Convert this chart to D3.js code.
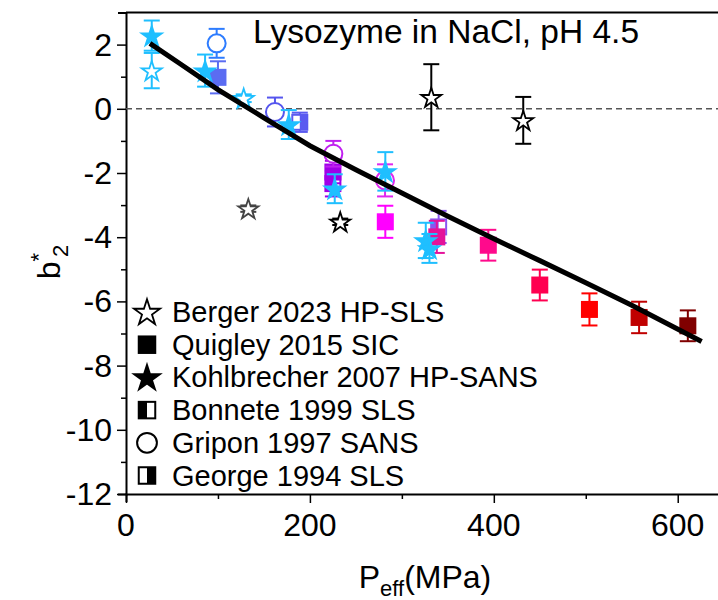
<!DOCTYPE html>
<html>
<head>
<meta charset="utf-8">
<script src="https://cdn.jsdelivr.net/npm/d3@7"></script>
<style>
	body { margin: 0; background: #fff; }
	svg { display: block; font-family: "Liberation Sans", Arial, sans-serif; }
</style>
</head>
<body>
<svg id="chart" width="718" height="600"></svg>
<script>
(function(d3) {
	'use strict';

	/** data */
	var bergerP = [28, 128, 133, 233, 332, 432];
	var bergerB = [1.19, 0.33, -3.11, -3.52, 0.36, -0.36];
	var bergerErr = [0.55, 0.12, 0.1, 0.1, 1.03, 0.73];
	var bergerColors = ['#1fbfff', '#1fbfff', '#444444', '#000000', '#000000', '#000000'];

	var quigleyP = [100, 225, 282, 338, 394, 450, 504, 558, 611];
	var quigleyB = [0.98, -1.97, -3.52, -3.99, -4.25, -5.49, -6.25, -6.5, -6.76];
	var quigleyErr = [0.5, 0.35, 0.5, 0.5, 0.48, 0.48, 0.5, 0.49, 0.48];
	var quigleyColors = ['#5b6cf2', '#a000e8', '#ff00ff', '#e4129a', '#ff0a8c', '#ff0050', '#ff0000', '#c00000', '#800000'];

	var kohlP = [28, 86, 177, 227, 282, 326, 330];
	var kohlB = [2.28, 1.19, -0.49, -2.49, -1.95, -4.1, -4.35];
	var kohlErr = [0.47, 0.5, 0.45, 0.45, 0.6, 0.55, 0.45];
	var kohlColors = ['#1fbfff', '#1fbfff', '#1fbfff', '#1fbfff', '#1fbfff', '#1fbfff', '#1fbfff'];

	var bonneteP = [225, 340];
	var bonneteB = [-2.33, -3.68];
	var bonneteErr = [0.4, 0.5];
	var bonneteColors = ['#a000e8', '#8a55f0'];

	var gripon97P = [98.6, 162, 225.5, 281.7];
	var gripon97B = [2.04, -0.1, -1.4, -2.23];
	var gripon97Err = [0.45, 0.45, 0.4, 0.5];
	var gripon97Colors = ['#2d7cff', '#5555ee', '#c020f0', '#e028f0'];

	var georgeP = [189];
	var georgeB = [-0.42];
	var georgeErr = [0.3];
	var georgeColors = ['#5a5af0'];

	var fitP = [26, 60, 100, 150, 200, 250, 300, 350, 400, 450, 500, 550, 626];
	var fitB = [2.04, 1.38, 0.6, -0.28, -1.15, -1.9, -2.62, -3.35, -4.05, -4.73, -5.42, -6.12, -7.25];

	var xTicks = [0, 200, 400, 600];
	var yTicks = [2, 0, -2, -4, -6, -8, -10, -12];

	var legendLabels = ['Berger 2023 HP-SLS', 'Quigley 2015 SIC', 'Kohlbrecher 2007 HP-SANS',
		'Bonnete 1999 SLS', 'Gripon 1997 SANS', 'George 1994 SLS'];
	var legendShapes = ['openStar', 'square', 'star', 'halfLeft', 'circle', 'halfRight'];

	var svg = d3.select('#chart');
	var x = d3.scaleLinear().domain([0, 650]).range([126, 723.7]);
	var y = d3.scaleLinear().domain([-12, 3]).range([494, 12.5]);

	/** axes */
	var xAxis = svg.append('g').attr('transform', 'translate(0,' + y(-12) + ')')
		.call(d3.axisBottom(x).tickValues(d3.range(0, 701, 100)).tickSize(8).tickFormat(''));
	xAxis.selectAll('.tick line').attr('y2', function(d) { return d % 200 === 0 ? 9 : 5; });
	var yAxis = svg.append('g').attr('transform', 'translate(' + x(0) + ',0)')
		.call(d3.axisLeft(y).tickValues(d3.range(-12, 3.1, 1)).tickSize(8).tickFormat(''));
	yAxis.selectAll('.tick line').attr('x2', function(d) { return d % 2 === 0 ? -9 : -5; });
	svg.selectAll('.domain').attr('stroke', '#000').attr('stroke-width', 2);
	svg.selectAll('.tick line').attr('stroke', '#000').attr('stroke-width', 1.5);
	svg.append('line').attr('x1', x(0)).attr('x2', 718).attr('y1', y(3)).attr('y2', y(3))
		.attr('stroke', '#000').attr('stroke-width', 2);

	svg.append('g').selectAll('text').data(xTicks).enter().append('text')
		.attr('x', function(d) { return x(d); }).attr('y', 536).attr('text-anchor', 'middle')
		.attr('font-size', 32).text(function(d) { return d; });
	svg.append('g').selectAll('text').data(yTicks).enter().append('text')
		.attr('x', 112).attr('y', function(d) { return y(d) + 11; }).attr('text-anchor', 'end')
		.attr('font-size', 32).text(function(d) { return d; });

	var xTitle = svg.append('text').attr('x', 425).attr('y', 588).attr('text-anchor', 'middle').attr('font-size', 32);
	xTitle.append('tspan').text('P');
	xTitle.append('tspan').attr('font-size', 22).attr('dy', 8).text('eff');
	xTitle.append('tspan').attr('dy', -8).text('(MPa)');

	var yTitle = svg.append('text').attr('transform', 'translate(60,262) rotate(-90)')
		.attr('text-anchor', 'middle').attr('font-size', 32);
	yTitle.append('tspan').text('b');
	yTitle.append('tspan').attr('font-size', 22).attr('dy', -14).text('*');
	yTitle.append('tspan').attr('font-size', 22).attr('dy', 22).attr('dx', -4).text('2');

	svg.append('text').attr('x', 253).attr('y', 43).attr('font-size', 33.5).text('Lysozyme in NaCl, pH 4.5');

	/** zero line and fit */
	svg.append('line').attr('x1', x(0)).attr('x2', 718).attr('y1', y(0)).attr('y2', y(0))
		.attr('stroke', '#555').attr('stroke-width', 1.5).attr('stroke-dasharray', '6,4');

	/** markers */
	var drawShape = function(g, shape, cx, cy, color, scale) {
		var s = scale || 1;
		if (shape === 'openStar' || shape === 'star') {
			g.append('path').attr('d', d3.symbol().type(d3.symbolStar).size(125 * s * s)())
				.attr('transform', 'translate(' + cx + ',' + (cy + 1) + ')')
				.attr('fill', shape === 'star' ? color : '#fff').attr('stroke', color).attr('stroke-width', 1.8);
		} else if (shape === 'circle') {
			g.append('circle').attr('cx', cx).attr('cy', cy).attr('r', 9 * s)
				.attr('fill', '#fff').attr('stroke', color).attr('stroke-width', 2);
		} else {
			var h = 7.5 * s;
			g.append('rect').attr('x', cx - h).attr('y', cy - h).attr('width', 2 * h).attr('height', 2 * h)
				.attr('fill', shape === 'square' ? color : '#fff').attr('stroke', color).attr('stroke-width', 2);
			if (shape === 'halfLeft') {
				g.append('rect').attr('x', cx - h).attr('y', cy - h).attr('width', h).attr('height', 2 * h).attr('fill', color);
			} else if (shape === 'halfRight') {
				g.append('rect').attr('x', cx).attr('y', cy - h).attr('width', h).attr('height', 2 * h).attr('fill', color);
			}
		}
	};

	var drawSeries = function(ps, bs, errs, colors, shape) {
		var g = svg.append('g');
		ps.forEach(function(p, i) {
			var cx = x(p), top = y(bs[i] + errs[i]), bottom = y(bs[i] - errs[i]);
			g.append('line').attr('x1', cx).attr('x2', cx).attr('y1', top).attr('y2', bottom)
				.attr('stroke', colors[i]).attr('stroke-width', 2);
			[top, bottom].forEach(function(cy) {
				g.append('line').attr('x1', cx - 8).attr('x2', cx + 8).attr('y1', cy).attr('y2', cy)
					.attr('stroke', colors[i]).attr('stroke-width', 2);
			});
			drawShape(g, shape, cx, y(bs[i]), colors[i]);
		});
	};

	drawSeries(georgeP, georgeB, georgeErr, georgeColors, 'halfRight');
	drawSeries(bonneteP, bonneteB, bonneteErr, bonneteColors, 'halfLeft');
	drawSeries(quigleyP, quigleyB, quigleyErr, quigleyColors, 'square');
	drawSeries(gripon97P, gripon97B, gripon97Err, gripon97Colors, 'circle');
	drawSeries(kohlP, kohlB, kohlErr, kohlColors, 'star');
	drawSeries(bergerP, bergerB, bergerErr, bergerColors, 'openStar');

	svg.append('path').datum(d3.zip(fitP, fitB))
		.attr('d', d3.line().x(function(d) { return x(d[0]); }).y(function(d) { return y(d[1]); }))
		.attr('fill', 'none').attr('stroke', '#000').attr('stroke-width', 5);

	/** legend */
	var legend = svg.append('g');
	legendLabels.forEach(function(label, i) {
		var ly = 312 + i * 32.7;
		drawShape(legend, legendShapes[i], 147, ly, '#000', legendShapes[i] === 'openStar' || legendShapes[i] === 'star' ? 1.3 : 1.1);
		legend.append('text').attr('x', 172).attr('y', ly + 10).attr('font-size', 29).text(label);
	});
})(d3);
</script>
</body>
</html>
